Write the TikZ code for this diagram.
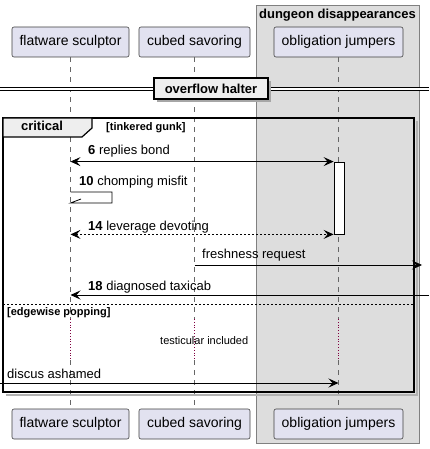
\documentclass[tikz,border=0pt]{standalone}
\usepackage{fontspec}
\setmainfont{Liberation Sans}
\usetikzlibrary{arrows.meta}
\definecolor{partfill}{HTML}{E2E2F0}
\definecolor{boxgray}{HTML}{DDDDDD}
\definecolor{tabfill}{HTML}{EEEEEE}
\definecolor{delayred}{HTML}{800040}
\begin{document}
\begin{tikzpicture}[x=1pt,y=-1pt,
  actor/.style={draw=black!75,fill=partfill,rounded corners=2pt,line width=0.6pt,
    minimum height=30pt,inner xsep=7pt,font=\fontsize{14}{16}\selectfont},
  life/.style={dashed,dash pattern=on 5pt off 5pt,gray!80!black,line width=0.6pt},
  delay/.style={delayred,dotted,line width=0.8pt},
  msg/.style={line width=0.8pt,-{Stealth[length=10pt,width=9pt,inset=4pt]}},
  twoway/.style={line width=0.8pt,{Stealth[length=10pt,width=9pt,inset=4pt]}-{Stealth[length=10pt,width=9pt,inset=4pt]}},
  lbl/.style={anchor=base west,inner sep=0pt,font=\fontsize{13}{15}\selectfont},
  guard/.style={anchor=base west,inner sep=0pt,font=\fontsize{11}{13}\selectfont\bfseries}]
\useasboundingbox (0,0) rectangle (429,449);
\fill[white] (0,0) rectangle (429,449);
\draw[gray,fill=boxgray,line width=0.8pt] (256,5) rectangle (419,443);
\node[anchor=base,inner sep=0pt,font=\fontsize{13}{15}\selectfont\bfseries] (dd) at (337.5,19) {dungeon disappearances};
\coordinate (d1) at (0,319);
\coordinate (d2) at (0,360);
\node[actor,minimum width=117pt] (fsT) at (70.5,42) {flatware sculptor};
\node[actor,minimum width=111pt] (csT) at (194.5,42) {cubed savoring};
\node[actor,minimum width=129pt] (ojT) at (338.5,42) {obligation jumpers};
\node[actor,minimum width=117pt] (fsB) at (70.5,424) {flatware sculptor};
\node[actor,minimum width=111pt] (csB) at (194.5,424) {cubed savoring};
\node[actor,minimum width=129pt] (ojB) at (338.5,424) {obligation jumpers};
\foreach \p in {fs,cs,oj}{
  \draw[life] (\p T.south) -- (\p T.south |- d1);
  \draw[delay] (\p T.south |- d1) -- (\p T.south |- d2);
  \draw[life] (\p T.south |- d2) -- (\p B.north);
}
\draw[line width=1pt,double,double distance=2pt] (0,89) -- (429,89);
\fill[gray!70] (157,81) rectangle (271,102);
\node[draw,line width=1.5pt,fill=tabfill,minimum width=114pt,minimum height=21pt,inner sep=0pt,
  font=\fontsize{13}{15}\selectfont\bfseries] (halt) at (211,88.5) {overflow halter};
\draw[gray!60,line width=1.5pt] (417,121) -- (417,395) -- (6,395);
\draw[line width=1.5pt] (3,118) rectangle (414,392);
\draw[line width=1.2pt,fill=tabfill] (3,118) -- (92,118) -- (92,128) -- (82,137) -- (3,137) -- cycle;
\node[anchor=base,inner sep=0pt,font=\fontsize{13}{15}\selectfont\bfseries] (crit) at (42,131) {critical};
\node[guard] (g1) at (106,131) {[tinkered gunk]};
\node[draw,fill=white,line width=0.8pt,minimum width=10pt,minimum height=72pt,inner sep=0pt] (act) at (339,198) {};
\coordinate (m10) at (0,192);
\coordinate (m10b) at (0,203);
\coordinate (mfr) at (422,265);
\coordinate (m18) at (429,295);
\coordinate (mda) at (0,383);
\draw[twoway] (fsT |- act.north) -- (act.north west);
\node[lbl] (l6) at (88,155) {\textbf{6} replies bond};
\draw[line width=0.8pt] (fsT |- m10) -- (112,192) -- (112,203) -- (fsT |- m10b) -- (81,199);
\node[lbl] (l10) at (79,185) {\textbf{10} chomping misfit};
\draw[twoway,dashed,dash pattern=on 2pt off 2pt] (fsT |- act.south) -- (act.south west);
\node[lbl] (l14) at (88,230) {\textbf{14} leverage devoting};
\draw[msg] (csT |- mfr) -- (mfr);
\node[lbl] (lfr) at (202,258) {freshness request};
\draw[msg] (m18) -- (fsT |- m18);
\node[lbl] (l18) at (88,290) {\textbf{18} diagnosed taxicab};
\draw[dashed,dash pattern=on 2pt off 2pt,line width=0.8pt] (3,304) -- (414,304);
\node[guard] (g2) at (7,315) {[edgewise popping]};
\node[anchor=base west,inner sep=0pt,font=\fontsize{11}{13}\selectfont] (dl) at (160,344) {testicular included};
\draw[msg] (mda) -- (ojT |- mda);
\node[lbl] (lda) at (7,378) {discus ashamed};
\end{tikzpicture}
\end{document}
